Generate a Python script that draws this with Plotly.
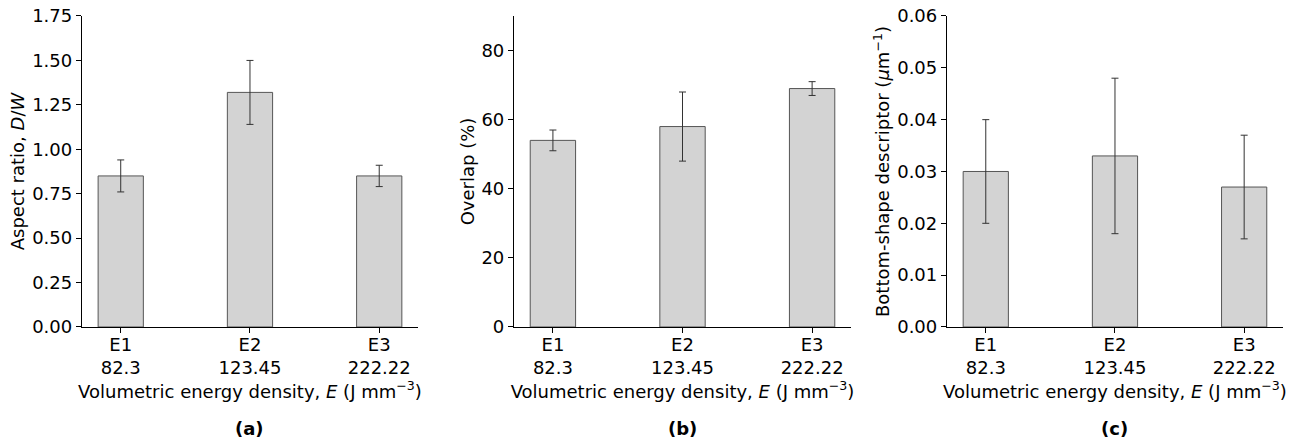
import plotly.graph_objects as go

categories = ["E1", "E2", "E3"]
energy = ["82.3", "123.45", "222.22"]

aspect_ratio = [0.85, 1.32, 0.85]
aspect_err = [0.09, 0.18, 0.06]

overlap = [54, 58, 69]
overlap_err = [3, 10, 2]

bottom_shape = [0.030, 0.033, 0.027]
bottom_err = [0.010, 0.015, 0.010]

panels = ["(a)", "(b)", "(c)"]
y_titles = ["Aspect ratio, <i>D</i>/<i>W</i>", "Overlap (%)",
            "Bottom-shape descriptor (<i>μ</i>m<sup>−1</sup>)"]
y_ranges = [[0, 1.75], [0, 90], [0, 0.06]]
y_dticks = [0.25, 20, 0.01]
y_formats = [".2f", "d", ".2f"]

x_domains = [[0.0629, 0.3208], [0.3945, 0.6531], [0.7268, 0.9846]]
y_domain = [0.2619, 0.9639]

FONT = "DejaVu Sans"
FS = 18

fig = go.Figure()
xpos = list(range(len(categories)))
ticktext = [f"{c}<br>{e}" for c, e in zip(categories, energy)]

series = [(aspect_ratio, aspect_err), (overlap, overlap_err), (bottom_shape, bottom_err)]
for i, (vals, errs) in enumerate(series):
    xa = "x" if i == 0 else f"x{i+1}"
    ya = "y" if i == 0 else f"y{i+1}"
    fig.add_trace(go.Bar(
        x=xpos, y=vals, width=0.35, xaxis=xa, yaxis=ya,
        marker=dict(color="#d3d3d3", line=dict(color="#555555", width=1)),
        error_y=dict(type="data", array=errs, visible=True, color="#333333",
                     thickness=1, width=3.5),
        showlegend=False, hoverinfo="skip",
    ))
    sfx = "" if i == 0 else str(i + 1)
    fig.layout["xaxis" + sfx] = dict(
        domain=x_domains[i], anchor=ya, range=[-0.3, 2.3], automargin=False,
        tickmode="array", tickvals=xpos, ticktext=ticktext,
        showline=True, linecolor="black", linewidth=1.3,
        ticks="outside", ticklen=5, tickwidth=1, tickcolor="black",
        ticklabelstandoff=-4,
        showgrid=False, zeroline=False,
        tickfont=dict(family=FONT, size=FS, color="black"),
        title=dict(text="Volumetric energy density, <i>E</i> (J mm<sup>−3</sup>)",
                   font=dict(family=FONT, size=FS, color="black"), standoff=0),
    )
    fig.layout["yaxis" + sfx] = dict(
        domain=y_domain, anchor=xa, range=y_ranges[i], automargin=False,
        tick0=0, dtick=y_dticks[i], tickformat=y_formats[i],
        showline=True, linecolor="black", linewidth=1.3,
        ticks="outside", ticklen=5, tickwidth=1, tickcolor="black",
        showgrid=False, zeroline=False,
        tickfont=dict(family=FONT, size=FS, color="black"),
        title=dict(text=y_titles[i], font=dict(family=FONT, size=FS, color="black"),
                   standoff=2),
    )
    fig.add_annotation(
        text=f"<b>{panels[i]}</b>", x=sum(x_domains[i]) / 2, y=15 / 443,
        xref="paper", yref="paper", showarrow=False, xanchor="center", yanchor="middle",
        font=dict(family=FONT, size=FS, color="black"),
    )

fig.update_layout(
    width=1303, height=443, margin=dict(l=0, r=0, t=0, b=0),
    plot_bgcolor="white", paper_bgcolor="white",
    font=dict(family=FONT, size=FS, color="black"),
)

fig.write_html("out.html")
